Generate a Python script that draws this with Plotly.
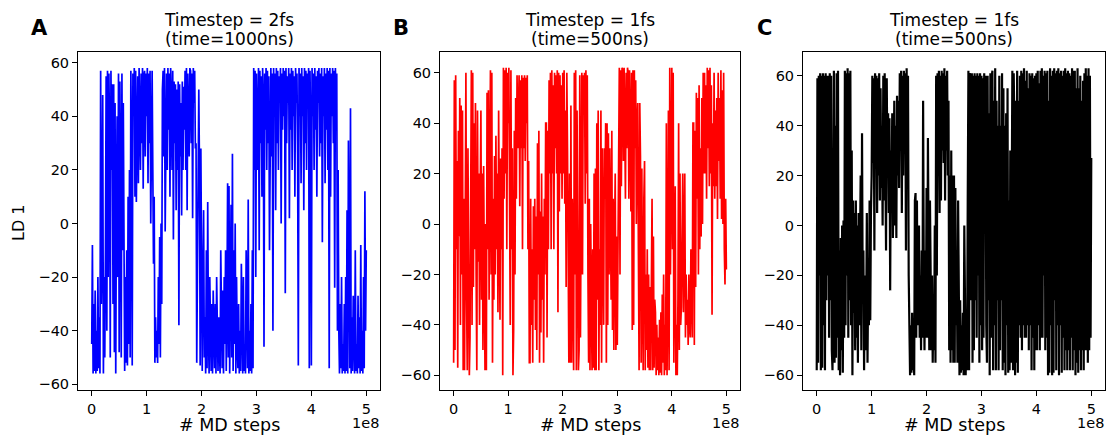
import numpy as np
import plotly.graph_objects as go

ld_2fs = [
    -45, -8, -56, -30, -55, -25, -56, -40,
    -55, -20, -54, -35, -56, 57, -30, -10,
    48, -56, -20, -50, -10, 55, -40, 57,
    -20, 56, 35, -50, 57, 20, 52, -30,
    52, -48, 45, -56, 10, 40, -20, 56,
    -48, 53, 20, -50, 56, -10, 45, -40,
    -55, -20, -52, -10, -53, 10, -45, 20,
    -50, 57, 30, -53, 56, 40, 58, 10,
    57, 8, 50, 55, 15, 58, 40, 20,
    56, 30, 58, 13, 55, 57, 25, 56,
    40, 58, 15, 56, 30, 57, 0, 50,
    57, 20, -15, 10, -52, -35, -50, -40,
    -52, -20, -45, -5, -50, 0, -30, 50,
    57, 25, 58, -3, 50, 56, 20, 58,
    35, 56, 10, 58, 45, 20, 57, -6,
    53, 30, 52, 5, 50, 20, 53, -38,
    52, 25, 45, 3, 53, 20, 51, 35,
    57, 20, 58, 5, 56, 40, 25, 58,
    57, 30, 56, 2, 58, 45, 57, 28,
    30, -52, -20, 30, 50, 20, -53, 28,
    -30, -55, -20, 5, -50, -35, -56, -10,
    -54, 8, -40, -56, -20, -50, -55, -30,
    -56, -25, -50, -54, -30, -56, -20, -52,
    -55, -35, -45, -56, -10, -50, -54, -25,
    -56, -20, -45, -10, -55, -30, 15, -50,
    14, -56, -20, 7, -50, 26, -55, -10,
    -45, 0, -56, -20, -45, -54, -30, -56,
    -40, -55, -15, -50, -56, -20, -55, -45,
    -56, -10, -50, -54, 9, -56, -40, -55,
    -30, -56, -10, -54, 58, 20, 57, -20,
    56, 40, 20, 58, -10, 57, 30, 55,
    10, 58, 45, -46, 56, 35, 58, 20,
    57, 30, 55, -10, 50, 58, 25, 56,
    -40, 58, 40, 56, 5, 58, 30, 57,
    20, 55, 45, 58, 0, 56, 35, 58,
    40, 57, -26, 58, 30, 55, 45, 58,
    2, 56, 35, 58, 20, 57, 40, 55,
    10, 58, 45, 56, 25, -53, 58, 40,
    56, 15, 58, 40, 55, 5, 58, 30,
    57, 20, 56, 45, 58, -54, 57, 35,
    -53, 58, 40, 56, 20, 58, 35, 55,
    10, 57, 45, 58, 25, 56, 30, 58,
    -7, 55, 40, 58, 15, 56, 35, 58,
    20, 57, -54, 58, 10, 56, 40, 58,
    30, 57, -24, 58, 45, 56, -40, 20,
    -40, -56, -30, -54, -20, -56, -45, -55,
    -30, -56, -20, -55, 5, -56, 31, -50,
    -54, 43, -56, -35, -55, -27, -50, -56,
    -10, -55, -45, -56, -27, -54, -35, -56,
    -8, -55, -40, -56, -20, -54, 12, -40,
    -10,
]

ld_1fs_b = [
    -55, 57, -50, 59, -10, 25, -57, 37,
    -5, 50, -40, 47, -20, 45, -58, 10,
    -58, 20, 60, -30, -58, 30, -25, -60,
    -45, 10, 61, -40, 60, -25, 40, -10,
    48, -20, -58, 45, -15, 20, -40, 10,
    45, -30, 20, -50, 23, -20, -58, 0,
    -58, 52, -10, 53, -30, 20, 61, -20,
    60, -55, 10, -30, 27, -20, 35, -10,
    20, -35, 45, 0, -38, 26, -10, 30,
    -60, 62, 10, 61, 20, 62, -10, 60,
    40, 62, 10, -40, 61, -10, 30, -60,
    -42, 37, -20, 50, 10, 59, 30, 58,
    59, 7, 57, 30, 59, -10, 58, 30,
    59, 25, 58, 40, 59, -10, 25, -55,
    -55, 10, -40, -10, -55, 7, -30, 10,
    -42, 3, -50, 32, -20, 37, -55, 5,
    -43, 20, -30, 3, -55, 10, -20, 40,
    40, -45, 37, -10, 57, 20, 60, -10,
    61, 20, 55, -10, 60, 30, 59, 20,
    61, -35, 60, 5, 59, 20, 55, 10,
    60, 20, 61, 8, 45, -25, 60, 30,
    -25, -55, 20, -55, 47, -55, 10, -30,
    -58, 60, -20, 61, -58, 45, 10, -58,
    -50, 59, -45, 10, 60, -20, 59, 50,
    60, 8, 61, 20, 59, -20, -55, 10,
    -58, 0, -40, -58, -10, -57, 20, -58,
    22, -58, 40, -30, 45, -58, -10, -40,
    45, -55, 30, -10, -40, 30, 10, 40,
    -55, 40, -40, 36, -20, 30, -10, -30,
    37, -42, 10, -50, -5, 20, -50, -5,
    -48, -5, 30, 62, -20, 61, 15, 62,
    61, 25, 62, 40, 10, 60, 30, 62,
    60, 10, 61, 40, 5, 60, -42, 61,
    -40, 61, 30, 57, 0, 40, 48, -10,
    -58, 48, 27, -55, 22, -30, -58, 10,
    25, -58, -20, -50, -10, -57, -20, -58,
    -25, -58, -30, 10, -58, -5, -57, -30,
    -35, -60, -40, -58, -45, -60, -38, -59,
    -35, -60, -28, -55, -20, -60, -40, -58,
    40, -60, -30, 45, -58, 62, -20, 61,
    62, -10, 60, -55, -5, 15, -60, -40,
    -60, -30, 40, -50, 20, -40, -33, 0,
    20, -35, -10, 20, -45, -20, -40, -30,
    -48, -20, -40, -45, -10, -30, -45, 40,
    40, -48, 37, -25, 52, 10, 50, -20,
    55, -10, 30, -5, 50, 0, 60, 20,
    60, 20, 55, 10, 62, 30, 61, 15,
    62, 20, 55, -36, 40, 15, 60, 10,
    45, 15, 50, 2, 60, 25, 50, 10,
    61, 2, 53, 0, 60, -10, -24, 10,
    -18,
]

ld_1fs_c = [
    -58, 59, -55, 60, -20, 61, -58, 60,
    -57, 61, -40, 60, -58, 61, -30, 60,
    -20, 60, -45, 61, -30, 60, -50, -58,
    0, 62, -55, 40, -53, 61, -45, 62,
    -58, -10, -60, -5, -50, 0, -59, 2,
    -45, 62, -40, 61, -20, 63, -45, 61,
    -30, 62, -40, 30, -60, 10, -35, 5,
    -50, 10, -45, 0, -55, 5, -40, -10,
    20, -50, 37, -30, -10, -58, -20, -50,
    -40, 5, -55, -20, -40, 10, -38, 5,
    20, 60, 25, 59, -10, 61, 30, 60,
    5, 59, 20, 61, 10, 55, 15, 40,
    0, 60, 10, 61, 30, -10, 59, 20,
    45, 5, 43, -26, 30, 10, 45, -5,
    20, 50, 0, 40, -5, 52, 20, 50,
    15, 61, 30, 62, 5, 60, 20, 62,
    40, 61, -10, 63, 20, 60, -20, -58,
    -60, -40, -59, -35, -58, -45, -60, 10,
    13, -45, 10, -40, -15, 0, -45, -20,
    -50, -10, -45, 50, -20, -50, -10, -45,
    15, -45, 35, -30, -50, 10, -30, -50,
    -20, -55, -30, -50, 0, -55, 60, -20,
    61, 20, 62, 5, 60, 10, 62, 30,
    61, 25, 63, 10, 60, 30, 62, 20,
    50, -50, 20, -55, 30, -50, 20, -55,
    20, -55, 15, -40, -10, -55, 10, -45,
    -60, -30, -59, -40, -58, -35, -60, 0,
    -32, -60, -40, -58, 10, 62, -58, 61,
    60, -30, 61, -55, 60, -50, 61, -30,
    60, -45, 61, -20, 60, -55, 61, -40,
    60, -50, 59, -45, 61, 0, 60, -40,
    -55, 60, -30, 45, -60, 61, -45, 60,
    62, -58, 50, -40, 63, -58, 50, -30,
    40, -58, 60, -50, 40, -30, 61, -58,
    55, -55, 40, -60, 45, -40, 55, -59,
    10, -58, 30, -55, 40, 62, -58, 61,
    40, -60, 50, -55, 62, -59, 50, -40,
    60, -45, 62, -50, 61, -40, 63, -45,
    58, -45, 62, -40, 55, -50, 61, -40,
    60, -58, 61, -45, 59, -58, 60, -50,
    61, -50, 62, -40, 57, -50, 62, -45,
    63, -45, 60, -20, 62, -50, 61, -45,
    62, -60, 50, -59, 63, -40, 60, -60,
    62, -59, 63, -30, 61, -58, 62, -40,
    63, -60, 61, -40, 62, -59, 60, -45,
    62, -58, 63, -50, 61, -58, 62, -50,
    61, -58, 60, -45, 63, -58, 62, -50,
    62, -60, 55, -55, 63, -59, 55, -50,
    60, -58, 50, -50, 58, -58, 61, -50,
    63, -50, 60, -55, 63, -50, 60, -45,
    27,
]

titles = ["Timestep = 2fs", "Timestep = 1fs", "Timestep = 1fs"]
subtitles = ["(time=1000ns)", "(time=500ns)", "(time=500ns)"]
letters = ["A", "B", "C"]
colors = ["#0000ff", "#ff0000", "#000000"]
widths = [1.7, 1.7, 2.2]
y_ranges = [[-62.2, 64.1], [-65.9, 68.3], [-66.0, 69.6]]
x_tick_vals = [0, 1e8, 2e8, 3e8, 4e8, 5e8]
x_tick_text = ["0", "1", "2", "3", "4", "5"]
y_tick_vals = [-60, -40, -20, 0, 20, 40, 60]

W, H = 1107, 436
# axes boxes in pixels: left, right (top 52, bottom 392)
boxes = [(78, 380), (440, 740), (803, 1105)]
top_px, bot_px = 52, 392
FONT = "DejaVu Sans"

fig = go.Figure()
series = [ld_2fs, ld_1fs_b, ld_1fs_c]
annotations = []

for i, vals in enumerate(series):
    n = i + 1
    xa = "x" if n == 1 else f"x{n}"
    ya = "y" if n == 1 else f"y{n}"
    steps = np.linspace(0, 5e8, len(vals))
    fig.add_trace(go.Scatter(
        x=steps, y=vals, mode="lines",
        line=dict(color=colors[i], width=widths[i]),
        xaxis=xa, yaxis=ya, showlegend=False, hoverinfo="skip"
    ))

    l, r = boxes[i]
    axis_style = dict(
        showline=True, linecolor="black", linewidth=1, mirror=True,
        ticks="outside", ticklen=5, tickwidth=1, tickcolor="black",
        showgrid=False, zeroline=False,
        tickfont=dict(family=FONT, size=14.5, color="black"),
    )
    fig.layout[f"xaxis{'' if n == 1 else n}"] = dict(
        domain=[l / W, r / W], anchor=ya, range=[-0.25e8, 5.25e8],
        tickvals=x_tick_vals, ticktext=x_tick_text, **axis_style
    )
    fig.layout[f"yaxis{'' if n == 1 else n}"] = dict(
        domain=[1 - bot_px / H, 1 - top_px / H], anchor=xa,
        range=y_ranges[i], tickvals=y_tick_vals, **axis_style
    )

    cx = (l + r) / 2 / W
    annotations += [
        dict(text=titles[i], x=cx, y=1 - 20.5 / H, xanchor="center", yanchor="middle",
             font=dict(family=FONT, size=17, color="black")),
        dict(text=subtitles[i], x=cx, y=1 - 39.5 / H, xanchor="center", yanchor="middle",
             font=dict(family=FONT, size=17, color="black")),
        dict(text="# MD steps", x=cx, y=1 - 427 / H, xanchor="center", yanchor="middle",
             font=dict(family=FONT, size=17.5, color="black")),
        dict(text="1e8", x=(r + 1) / W, y=1 - 425 / H, xanchor="right", yanchor="middle",
             font=dict(family=FONT, size=14.5, color="black")),
        dict(text=f"<b>{letters[i]}</b>", x=(l - 39) / W, y=1 - 28 / H,
             xanchor="center", yanchor="middle",
             font=dict(family=FONT, size=21, color="black")),
    ]

annotations.append(dict(text="LD 1", x=19 / W, y=1 - 224 / H, textangle=-90,
                        xanchor="center", yanchor="middle",
                        font=dict(family=FONT, size=16, color="black")))
for a in annotations:
    a.update(xref="paper", yref="paper", showarrow=False)

fig.update_layout(
    width=W, height=H, margin=dict(l=0, r=0, t=0, b=0),
    paper_bgcolor="white", plot_bgcolor="white",
    annotations=annotations,
)

# drop the page's default body margin so the figure sits at the window's corner
fig.write_html("out.html", config={"displayModeBar": False},
               post_script="document.body.style.margin='0';")
